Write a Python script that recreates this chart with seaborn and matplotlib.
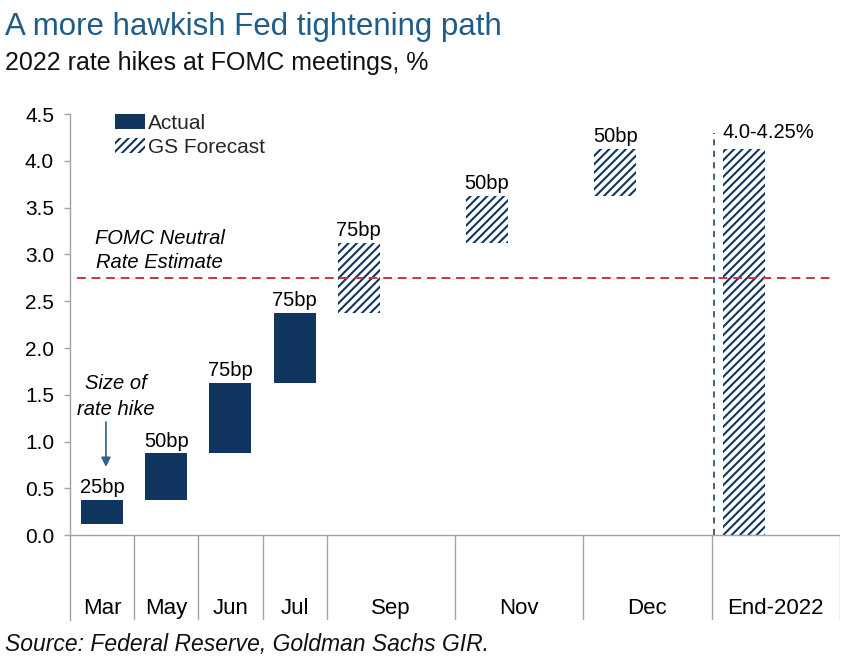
import numpy as np
import pandas as pd
import matplotlib
matplotlib.use("Agg")
import matplotlib.pyplot as plt
from matplotlib.patches import Patch
import seaborn as sns

# ---- data ----
categories = ["Mar", "May", "Jun", "Jul", "Sep", "Nov", "Dec", "End-2022"]
cell_span = [1, 1, 1, 1, 2, 2, 2, 2]          # months covered by each column
bar_bottom = [0.125, 0.375, 0.875, 1.625, 2.375, 3.125, 3.625, 0.0]
bar_top = [0.375, 0.875, 1.625, 2.375, 3.125, 3.625, 4.125, 4.125]
bar_kind = ["Actual"] * 4 + ["GS Forecast"] * 4
bar_labels = ["25bp", "50bp", "75bp", "75bp", "75bp", "50bp", "50bp", "4.0-4.25%"]
neutral_rate = 2.75
y_ticks = [0.0, 0.5, 1.0, 1.5, 2.0, 2.5, 3.0, 3.5, 4.0, 4.5]

NAVY = "#10355f"
RED = "#c9343f"
GRAY = "#a3a3a3"

sns.set_theme(style="white")
plt.rcParams["font.family"] = ["Liberation Sans", "DejaVu Sans"]
plt.rcParams["hatch.linewidth"] = 1.5

fig = plt.figure(figsize=(8.59, 6.67), dpi=100)
ax = fig.add_axes([70 / 859, 1 - 620 / 667, 770 / 859, 506 / 667])

edges = np.concatenate([[0], np.cumsum(cell_span)])
bar_x = edges[:-1] + 0.5
label_x = (edges[:-1] + edges[1:]) / 2

df = pd.DataFrame({"x": bar_x, "bottom": bar_bottom, "top": bar_top,
                   "kind": bar_kind, "label": bar_labels})
df["height"] = df["top"] - df["bottom"]

for _, r in df.iterrows():
    if r["kind"] == "Actual":
        style = dict(color=NAVY, linewidth=0)
    else:
        style = dict(facecolor="white", edgecolor=NAVY, hatch="////", linewidth=0)
    sns.barplot(x=[r["x"]], y=[r["height"]], bottom=r["bottom"], native_scale=True,
                width=0.655, errorbar=None, saturation=1, ax=ax, **style)

YMIN = -0.905
ax.set_xlim(0, edges[-1])
ax.set_ylim(YMIN, 4.5)

# spines / axes lines
for s in ["top", "right", "bottom"]:
    ax.spines[s].set_visible(False)
ax.spines["left"].set_color(GRAY)
ax.spines["left"].set_linewidth(1.0)
ax.axhline(0, color=GRAY, lw=1.0, zorder=1)
for e in edges[1:]:
    ax.plot([e, e], [YMIN, 0], color=GRAY, lw=1.0, zorder=1)

ax.set_xticks([])
ax.set_yticks(y_ticks)
ax.set_yticklabels([f"{v:.1f}" for v in y_ticks])
ax.tick_params(axis="y", left=True, length=4.5, width=1.0, color=GRAY,
               labelsize=15, pad=7, labelcolor="black")
ax.set_xlabel("")
ax.set_ylabel("")

# category labels
for cx, c in zip(label_x, categories):
    ax.text(cx, -0.84, c, ha="center", va="baseline", fontsize=16, color="black")

# bar labels
for _, r in df.iterrows():
    if r["label"].endswith("%"):
        ax.text(r["x"] - 0.33, 4.243, r["label"], ha="left", va="baseline",
                fontsize=14.5, color="black")
    else:
        ax.text(r["x"], r["top"] + 0.072, r["label"], ha="center", va="baseline",
                fontsize=14.5, color="black")

# neutral rate line
ax.plot([0.11, 11.89], [neutral_rate, neutral_rate], color=RED, lw=1.4,
        dashes=(4.5, 3), zorder=5)
ax.text(1.40, 3.113, "FOMC Neutral", ha="center", va="baseline", fontsize=14.5,
        style="italic", color="black")
ax.text(1.40, 2.857, "Rate Estimate", ha="center", va="baseline", fontsize=14.5,
        style="italic", color="black")

# end-of-year divider
ax.plot([edges[-2] + 0.03, edges[-2] + 0.03], [0, 4.3], color=NAVY, lw=1.1,
        dashes=(4, 3.5), zorder=4)

# size of rate hike annotation
ax.text(0.717, 1.56, "Size of", ha="center", va="baseline", fontsize=14.5,
        style="italic", color="black")
ax.text(0.717, 1.286, "rate hike", ha="center", va="baseline", fontsize=14.5,
        style="italic", color="black")
ax.annotate("", xy=(0.56, 0.73), xytext=(0.56, 1.21),
            arrowprops=dict(arrowstyle="-|>", color="#2f6283", lw=1.2,
                            mutation_scale=14, shrinkA=0, shrinkB=0))

# legend
handles = [Patch(facecolor=NAVY, edgecolor=NAVY, linewidth=0, label="Actual"),
           Patch(facecolor="white", edgecolor=NAVY, hatch="////", linewidth=0,
                 label="GS Forecast")]
ax.legend(handles=handles, loc="upper left", bbox_to_anchor=(45 / 770, 1.0),
          frameon=False, fontsize=15, handlelength=1.45, handleheight=0.75,
          handletextpad=0.15, labelspacing=0.22, borderpad=0, borderaxespad=0)

# titles
fig.text(0.006, 1 - 35 / 667, "A more hawkish Fed tightening path", fontsize=22.5,
         color="#1f5c89", ha="left", va="baseline")
fig.text(0.006, 1 - 70 / 667, "2022 rate hikes at FOMC meetings, %", fontsize=18,
         color="#111111", ha="left", va="baseline")
fig.text(0.006, 1 - 651 / 667, "Source: Federal Reserve, Goldman Sachs GIR.",
         fontsize=16.5, style="italic", color="#111111", ha="left", va="baseline")

fig.savefig("out.png", dpi=100)
